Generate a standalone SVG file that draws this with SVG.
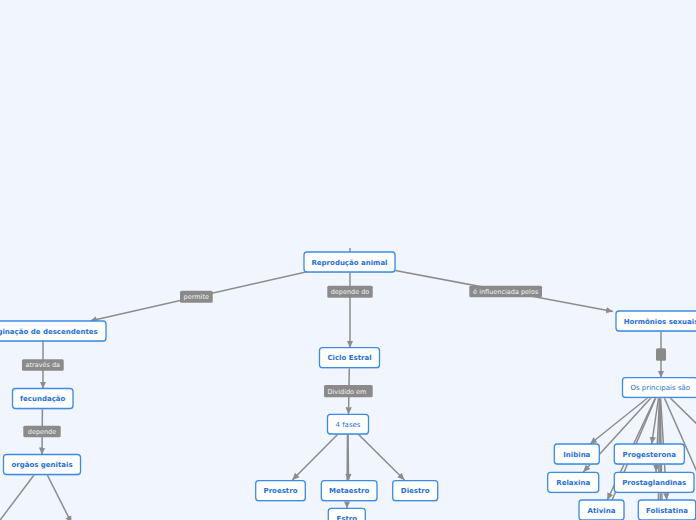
<svg xmlns="http://www.w3.org/2000/svg" width="696" height="520" viewBox="0 0 696 520">
<defs>
<marker id="arr" markerUnits="userSpaceOnUse" markerWidth="8" markerHeight="8" refX="7" refY="4" orient="auto">
<path d="M0,0.8 L7,4 L0,7.2 Z" fill="#8c8c8c"/>
</marker>
<style>
.c{stroke:#8c8c8c;stroke-width:1.5;fill:none}
.ca{stroke:#8c8c8c;stroke-width:1.5;fill:none;marker-end:url(#arr)}
.lb{fill:#8a8a8a}
.lt{font-family:"DejaVu Sans",Verdana,sans-serif;font-size:6.5px;fill:#f4f4f4;text-anchor:middle}
.nb{fill:#ffffff;stroke:#3a8ce6;stroke-width:1.3}
.sh{fill:#c8d2e2;opacity:0.7}
.nt{font-family:"DejaVu Sans",Verdana,sans-serif;font-size:7px;font-weight:bold;fill:#1f6fd8;text-anchor:middle}
.nn{font-family:"DejaVu Sans",Verdana,sans-serif;font-size:7px;fill:#1f6fd8;text-anchor:middle}
</style>
</defs>
<rect width="696" height="520" fill="#f1f5fe"/>
<g id="connectors">
<line class="c" x1="350" y1="248" x2="350" y2="252"/>
<line class="ca" x1="350" y1="262" x2="90" y2="321"/>
<line class="ca" x1="350" y1="262" x2="350" y2="347.7"/>
<line class="ca" x1="350" y1="262" x2="613" y2="311.5"/>
<line class="ca" x1="43" y1="331" x2="43" y2="388.5"/>
<line class="ca" x1="42.5" y1="398.5" x2="42" y2="454.5"/>
<line class="c" x1="42" y1="464.5" x2="-15" y2="540"/>
<line class="ca" x1="42" y1="464.5" x2="71.5" y2="523"/>
<line class="ca" x1="349.5" y1="357.7" x2="348.5" y2="414.3"/>
<line class="ca" x1="348" y1="424" x2="292.3" y2="480"/>
<line class="ca" x1="348" y1="424" x2="348.5" y2="480.7"/>
<line class="ca" x1="347.5" y1="424" x2="347" y2="508.3"/>
<line class="ca" x1="348" y1="424" x2="404.5" y2="480"/>
<line class="ca" x1="661" y1="321" x2="661" y2="377.7"/>
<line class="ca" x1="660" y1="388" x2="590" y2="444"/>
<line class="ca" x1="660" y1="388" x2="583.3" y2="472"/>
<line class="ca" x1="660" y1="388" x2="651.7" y2="444"/>
<line class="ca" x1="660" y1="388" x2="656" y2="472"/>
<line class="ca" x1="660" y1="388" x2="607.3" y2="500"/>
<line class="c" x1="660" y1="388" x2="595" y2="540"/>
<line class="ca" x1="660" y1="388" x2="666.7" y2="500"/>
<line class="c" x1="660" y1="388" x2="657.5" y2="560"/>
<line class="c" x1="660" y1="388" x2="660.5" y2="560"/>
<line class="c" x1="660" y1="388" x2="663" y2="560"/>
<line class="c" x1="660" y1="388" x2="740" y2="466"/>
<line class="c" x1="660" y1="388" x2="727" y2="540"/>
<rect class="lb" x="180" y="290.7" width="32.7" height="12" rx="1.5"/>
<text class="lt" x="196.3" y="299">permite</text>
<rect class="lb" x="22" y="359.3" width="41.7" height="11.4" rx="1.5"/>
<text class="lt" x="42.8" y="367.3">através da</text>
<rect class="lb" x="23.3" y="425.7" width="37.4" height="11.6" rx="1.5"/>
<text class="lt" x="42" y="433.8">depende</text>
<rect class="lb" x="327.3" y="285.7" width="45.4" height="12" rx="1.5"/>
<text class="lt" x="350" y="294">depende do</text>
<rect class="lb" x="324" y="385" width="48.7" height="12.3" rx="1.5"/>
<text class="lt" x="347" y="393.5">Dividido em</text>
<rect class="lb" x="469.3" y="285.7" width="72.7" height="11.6" rx="1.5"/>
<text class="lt" x="505.7" y="293.8">é influenciada pelos</text>
<rect class="lb" x="656" y="348.3" width="10" height="12.4" rx="1.5"/>
</g>
<g id="n-reproducao"><rect class="sh" x="304.5" y="253" width="91" height="20" rx="3"/><rect class="nb" x="304" y="252" width="91" height="20" rx="3"/><text class="nt" x="349.5" y="264.5">Reprodução animal</text></g>
<g id="n-originacao"><rect class="sh" x="-19.5" y="322" width="126" height="20" rx="3"/><rect class="nb" x="-20" y="321" width="126" height="20" rx="3"/><text class="nt" x="97.7" y="333.5" style="text-anchor:end">Originação de descendentes</text></g>
<g id="n-fecundacao"><rect class="sh" x="13" y="389.5" width="60.5" height="20" rx="3"/><rect class="nb" x="12.5" y="388.5" width="60.5" height="20" rx="3"/><text class="nt" x="42.7" y="401">fecundação</text></g>
<g id="n-orgaos"><rect class="sh" x="4" y="455.5" width="77" height="20" rx="3"/><rect class="nb" x="3.5" y="454.5" width="77" height="20" rx="3"/><text class="nt" x="42" y="467">orgãos genitais</text></g>
<g id="n-ciclo"><rect class="sh" x="320" y="348.7" width="60" height="20" rx="3"/><rect class="nb" x="319.5" y="347.7" width="60" height="20" rx="3"/><text class="nt" x="349.5" y="360.2">Ciclo Estral</text></g>
<g id="n-4fases"><rect class="sh" x="328" y="415.3" width="41" height="19.7" rx="3"/><rect class="nb" x="327.5" y="414.3" width="41" height="19.7" rx="3"/><text class="nn" x="348" y="426.6">4 fases</text></g>
<g id="n-proestro"><rect class="sh" x="256.2" y="481.7" width="49.6" height="20" rx="3"/><rect class="nb" x="255.7" y="480.7" width="49.6" height="20" rx="3"/><text class="nt" x="280.5" y="493.2">Proestro</text></g>
<g id="n-metaestro"><rect class="sh" x="321.8" y="481.7" width="55.7" height="20" rx="3"/><rect class="nb" x="321.3" y="480.7" width="55.7" height="20" rx="3"/><text class="nt" x="349.2" y="493.2">Metaestro</text></g>
<g id="n-diestro"><rect class="sh" x="393.2" y="481.7" width="45" height="20" rx="3"/><rect class="nb" x="392.7" y="480.7" width="45" height="20" rx="3"/><text class="nt" x="415.2" y="493.2">Diestro</text></g>
<g id="n-estro"><rect class="sh" x="328.8" y="509.3" width="37" height="20" rx="3"/><rect class="nb" x="328.3" y="508.3" width="37" height="20" rx="3"/><text class="nt" x="346.8" y="520.8">Estro</text></g>
<g id="n-hormonios"><rect class="sh" x="616.5" y="312" width="90" height="20" rx="3"/><rect class="nb" x="616" y="311" width="90" height="20" rx="3"/><text class="nt" x="661" y="323.5">Hormônios sexuais</text></g>
<g id="n-principais"><rect class="sh" x="623" y="378.7" width="75" height="19.7" rx="3"/><rect class="nb" x="622.5" y="377.7" width="75" height="19.7" rx="3"/><text class="nn" x="660.3" y="390">Os principais são</text></g>
<g id="n-inibina"><rect class="sh" x="554.8" y="445" width="45" height="20" rx="3"/><rect class="nb" x="554.3" y="444" width="45" height="20" rx="3"/><text class="nt" x="576.8" y="456.5">Inibina</text></g>
<g id="n-progesterona"><rect class="sh" x="614.8" y="445" width="70" height="20" rx="3"/><rect class="nb" x="614.3" y="444" width="70" height="20" rx="3"/><text class="nt" x="649.3" y="456.5">Progesterona</text></g>
<g id="n-relaxina"><rect class="sh" x="548.2" y="473.3" width="51" height="20" rx="3"/><rect class="nb" x="547.7" y="472.3" width="51" height="20" rx="3"/><text class="nt" x="573.2" y="484.8">Relaxina</text></g>
<g id="n-prostaglandinas"><rect class="sh" x="614.8" y="473.3" width="79.7" height="20" rx="3"/><rect class="nb" x="614.3" y="472.3" width="79.7" height="20" rx="3"/><text class="nt" x="654.2" y="484.8">Prostaglandinas</text></g>
<g id="n-ativina"><rect class="sh" x="579.5" y="501" width="45" height="20" rx="3"/><rect class="nb" x="579" y="500" width="45" height="20" rx="3"/><text class="nt" x="601.5" y="512.5">Ativina</text></g>
<g id="n-folistatina"><rect class="sh" x="638.8" y="501" width="57.4" height="20" rx="3"/><rect class="nb" x="638.3" y="500" width="57.4" height="20" rx="3"/><text class="nt" x="667" y="512.5">Folistatina</text></g>
</svg>
